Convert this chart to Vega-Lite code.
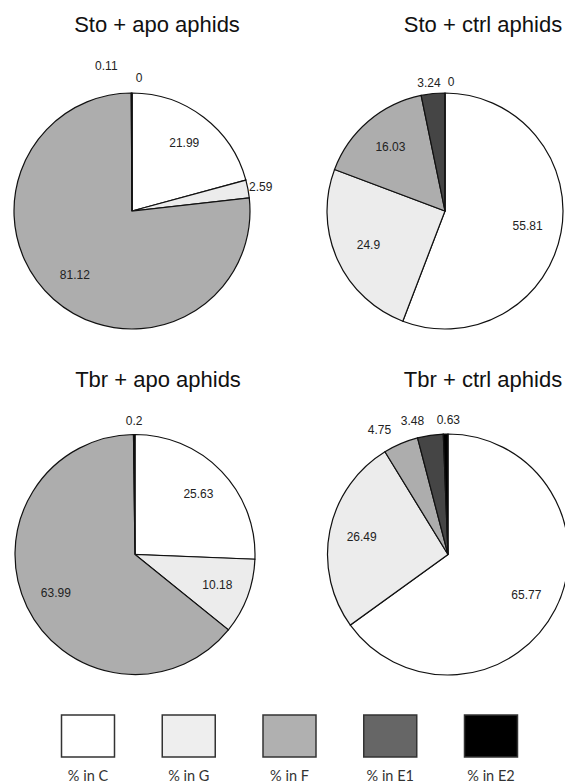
{
  "$schema": "https://vega.github.io/schema/vega-lite/v6.json",
  "background": "white",
  "padding": {"left": 11, "top": 14, "right": 0, "bottom": 0},
  "datasets": {
    "pies": [
      {"panel": "Sto + apo aphids", "cat": "C", "i": 1, "v": 21.99},
      {"panel": "Sto + apo aphids", "cat": "G", "i": 2, "v": 2.59},
      {"panel": "Sto + apo aphids", "cat": "F", "i": 3, "v": 81.12},
      {"panel": "Sto + apo aphids", "cat": "E1", "i": 4, "v": 0.11},
      {"panel": "Sto + apo aphids", "cat": "E2", "i": 5, "v": 0},
      {"panel": "Sto + ctrl aphids", "cat": "C", "i": 1, "v": 55.81},
      {"panel": "Sto + ctrl aphids", "cat": "G", "i": 2, "v": 24.9},
      {"panel": "Sto + ctrl aphids", "cat": "F", "i": 3, "v": 16.03},
      {"panel": "Sto + ctrl aphids", "cat": "E1", "i": 4, "v": 3.24},
      {"panel": "Sto + ctrl aphids", "cat": "E2", "i": 5, "v": 0},
      {"panel": "Tbr + apo aphids", "cat": "C", "i": 1, "v": 25.63},
      {"panel": "Tbr + apo aphids", "cat": "G", "i": 2, "v": 10.18},
      {"panel": "Tbr + apo aphids", "cat": "F", "i": 3, "v": 63.99},
      {"panel": "Tbr + apo aphids", "cat": "E2", "i": 5, "v": 0.2},
      {"panel": "Tbr + ctrl aphids", "cat": "C", "i": 1, "v": 65.77},
      {"panel": "Tbr + ctrl aphids", "cat": "G", "i": 2, "v": 26.49},
      {"panel": "Tbr + ctrl aphids", "cat": "F", "i": 3, "v": 4.75},
      {"panel": "Tbr + ctrl aphids", "cat": "E1", "i": 4, "v": 3.48},
      {"panel": "Tbr + ctrl aphids", "cat": "E2", "i": 5, "v": 0.63}
    ],
    "cats": [
      {"label": "% in C", "cat": "C"},
      {"label": "% in G", "cat": "G"},
      {"label": "% in F", "cat": "F"},
      {"label": "% in E1", "cat": "E1"},
      {"label": "% in E2", "cat": "E2"}
    ]
  },
  "resolve": {"scale": {"color": "independent"}, "legend": {"color": "independent"}},
  "vconcat": [
    {
      "spacing": 77,
      "bounds": "flush",
      "hconcat": [
        {
          "data": {"name": "pies"},
          "width": 236, "height": 236,
          "title": {"text": "Sto + apo aphids", "dx": 25, "offset": 23},
          "transform": [{"filter": "datum.panel === 'Sto + apo aphids'"}],
          "encoding": {
            "theta": {"field": "v", "type": "quantitative", "stack": true},
            "order": {"field": "i", "type": "quantitative"},
            "color": {"field": "cat", "type": "nominal", "legend": null,
              "scale": {"domain": ["C", "G", "F", "E1", "E2"], "range": ["#ffffff", "#ececec", "#adadad", "#454545", "#000000"]}}
          },
          "layer": [
            {"mark": {"type": "arc", "outerRadius": 118, "stroke": "#111111", "strokeWidth": 1.2}},
            {"mark": {"type": "text", "radius": 86, "font": "Liberation Sans", "fontSize": 12, "align": "center", "baseline": "middle"},
             "encoding": {"color": {"value": "#222222"}, "text": {"condition": {"test": "datum.v >= 5", "field": "v", "type": "nominal"}, "value": ""}}},
            {"mark": {"type": "text", "radius": 131, "font": "Liberation Sans", "fontSize": 12, "align": "center", "baseline": "middle"},
             "encoding": {"color": {"value": "#222222"}, "text": {"condition": {"test": "datum.cat === 'G'", "field": "v", "type": "nominal"}, "value": ""}}},
            {"mark": {"type": "text", "radius": 133, "font": "Liberation Sans", "fontSize": 12, "align": "right", "baseline": "middle", "dx": -14, "dy": -12},
             "encoding": {"color": {"value": "#222222"}, "text": {"condition": {"test": "datum.cat === 'E1'", "field": "v", "type": "nominal"}, "value": ""}}},
            {"mark": {"type": "text", "radius": 133, "font": "Liberation Sans", "fontSize": 12, "align": "center", "baseline": "middle", "dx": 7},
             "encoding": {"color": {"value": "#222222"}, "text": {"condition": {"test": "datum.cat === 'E2'", "field": "v", "type": "nominal"}, "value": ""}}}
          ]
        },
        {
          "data": {"name": "pies"},
          "width": 236, "height": 236,
          "title": {"text": "Sto + ctrl aphids", "dx": 38, "offset": 39},
          "transform": [{"filter": "datum.panel === 'Sto + ctrl aphids'"}],
          "encoding": {
            "theta": {"field": "v", "type": "quantitative", "stack": true},
            "order": {"field": "i", "type": "quantitative"},
            "color": {"field": "cat", "type": "nominal", "legend": null,
              "scale": {"domain": ["C", "G", "F", "E1", "E2"], "range": ["#ffffff", "#ececec", "#adadad", "#454545", "#000000"]}}
          },
          "layer": [
            {"mark": {"type": "arc", "outerRadius": 118, "stroke": "#111111", "strokeWidth": 1.2}},
            {"mark": {"type": "text", "radius": 84, "font": "Liberation Sans", "fontSize": 12, "align": "center", "baseline": "middle"},
             "encoding": {"color": {"value": "#222222"}, "text": {"condition": {"test": "datum.v >= 5", "field": "v", "type": "nominal"}, "value": ""}}},
            {"mark": {"type": "text", "radius": 129, "font": "Liberation Sans", "fontSize": 12, "align": "center", "baseline": "middle", "dx": -3},
             "encoding": {"color": {"value": "#222222"}, "text": {"condition": {"test": "datum.cat === 'E1'", "field": "v", "type": "nominal"}, "value": ""}}},
            {"mark": {"type": "text", "radius": 129, "font": "Liberation Sans", "fontSize": 12, "align": "center", "baseline": "middle", "dx": 6},
             "encoding": {"color": {"value": "#222222"}, "text": {"condition": {"test": "datum.cat === 'E2'", "field": "v", "type": "nominal"}, "value": ""}}}
          ]
        }
      ]
    },
    {
      "spacing": 72,
      "bounds": "flush",
      "hconcat": [
        {
          "data": {"name": "pies"},
          "width": 242, "height": 239,
          "title": {"text": "Tbr + apo aphids", "dx": 23, "offset": 23},
          "transform": [{"filter": "datum.panel === 'Tbr + apo aphids'"}],
          "encoding": {
            "theta": {"field": "v", "type": "quantitative", "stack": true},
            "order": {"field": "i", "type": "quantitative"},
            "color": {"field": "cat", "type": "nominal", "legend": null,
              "scale": {"domain": ["C", "G", "F", "E1", "E2"], "range": ["#ffffff", "#ececec", "#adadad", "#454545", "#000000"]}}
          },
          "layer": [
            {"mark": {"type": "arc", "outerRadius": 120, "stroke": "#111111", "strokeWidth": 1.2}},
            {"mark": {"type": "text", "radius": 88, "font": "Liberation Sans", "fontSize": 12, "align": "center", "baseline": "middle"},
             "encoding": {"color": {"value": "#222222"}, "text": {"condition": {"test": "datum.v >= 5", "field": "v", "type": "nominal"}, "value": ""}}},
            {"mark": {"type": "text", "radius": 134, "font": "Liberation Sans", "fontSize": 12, "align": "center", "baseline": "middle"},
             "encoding": {"color": {"value": "#222222"}, "text": {"condition": {"test": "datum.v < 5", "field": "v", "type": "nominal"}, "value": ""}}}
          ]
        },
        {
          "data": {"name": "pies"},
          "width": 240, "height": 239,
          "title": {"text": "Tbr + ctrl aphids", "dx": 35, "offset": 22},
          "transform": [{"filter": "datum.panel === 'Tbr + ctrl aphids'"}],
          "encoding": {
            "theta": {"field": "v", "type": "quantitative", "stack": true},
            "order": {"field": "i", "type": "quantitative"},
            "color": {"field": "cat", "type": "nominal", "legend": null,
              "scale": {"domain": ["C", "G", "F", "E1", "E2"], "range": ["#ffffff", "#ececec", "#adadad", "#454545", "#000000"]}}
          },
          "layer": [
            {"mark": {"type": "arc", "outerRadius": 120.5, "stroke": "#111111", "strokeWidth": 1.2}},
            {"mark": {"type": "text", "radius": 88, "font": "Liberation Sans", "fontSize": 12, "align": "center", "baseline": "middle"},
             "encoding": {"color": {"value": "#222222"}, "text": {"condition": {"test": "datum.v >= 5", "field": "v", "type": "nominal"}, "value": ""}}},
            {"mark": {"type": "text", "radius": 135, "font": "Liberation Sans", "fontSize": 12, "align": "right", "baseline": "middle", "dx": -4},
             "encoding": {"color": {"value": "#222222"}, "text": {"condition": {"test": "datum.v < 5 && datum.cat !== 'E2'", "field": "v", "type": "nominal"}, "value": ""}}},
            {"mark": {"type": "text", "radius": 135, "font": "Liberation Sans", "fontSize": 12, "align": "center", "baseline": "middle", "dx": 3},
             "encoding": {"color": {"value": "#222222"}, "text": {"condition": {"test": "datum.cat === 'E2'", "field": "v", "type": "nominal"}, "value": ""}}}
          ]
        }
      ]
    },
    {
      "data": {"name": "cats"},
      "width": 551, "height": 42,
      "mark": {"type": "rect", "stroke": "#333333", "strokeWidth": 1.5},
      "encoding": {
        "x": {"field": "label", "type": "nominal", "sort": null,
          "scale": {"paddingInner": 0.474, "paddingOuter": 0.4715},
          "axis": {"title": null, "domain": false, "ticks": false, "tickSize": 0, "labelAngle": 0, "labelPadding": 12,
                   "labelFont": "Lato", "labelFontSize": 14.5, "labelColor": "#333333"}},
        "color": {"field": "cat", "type": "nominal", "legend": null,
          "scale": {"domain": ["C", "G", "F", "E1", "E2"], "range": ["#ffffff", "#eeeeee", "#b0b0b0", "#666666", "#000000"]}}
      }
    }
  ],
  "spacing": 36,
  "config": {
    "view": {"stroke": null},
    "title": {"font": "Liberation Sans", "fontSize": 22, "fontWeight": "normal", "color": "#111111", "baseline": "alphabetic", "anchor": "middle", "frame": "group"}
  }
}
